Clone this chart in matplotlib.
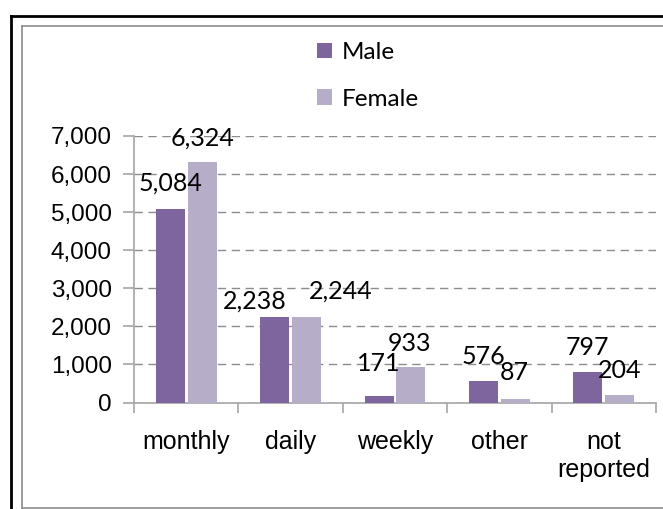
import numpy as np
import matplotlib
matplotlib.use('Agg')
import matplotlib.pyplot as plt
from matplotlib.lines import Line2D
from matplotlib.ticker import FuncFormatter, FixedLocator

categories = ['monthly', 'daily', 'weekly', 'other', 'not\nreported']
male = [5084, 2238, 171, 576, 797]
female = [6324, 2244, 933, 87, 204]

# сдвиги подписей (в пикселях), как в исходной картинке
male_off = [(0, 18), (-20, 9), (0, 25), (0, 17), (0, 17)]
female_off = [(0, 16), (34, 18), (-1, 16), (-1, 19), (0, 17)]

c_male = '#7F659E'
c_female = '#B6ADC9'
W, H = 663, 509

fig = plt.figure(figsize=(W / 100, H / 100), dpi=100)
ax = fig.add_axes([134 / W, 1 - 402.5 / H, (656 - 134) / W, (402.5 - 136) / H])

x = np.arange(len(categories))
bw = 0.278
d = 0.153
b1 = ax.bar(x - d, male, bw, color=c_male, label='Male', zorder=3)
b2 = ax.bar(x + d, female, bw, color=c_female, label='Female', zorder=3)

px = 0.72  # 1 px в пунктах
for bars, vals, offs in [(b1, male, male_off), (b2, female, female_off)]:
    for r, v, (dx, dy) in zip(bars, vals, offs):
        ax.annotate(f'{v:,}', (r.get_x() + r.get_width() / 2, v),
                    xytext=(dx * px, dy * px), textcoords='offset points',
                    ha='center', va='baseline', fontsize=18,
                    family=['Lato', 'DejaVu Sans'], zorder=4)

ax.set_xlim(-0.5, len(categories) - 0.5)
ax.set_ylim(0, 7000)
ax.set_yticks(np.arange(0, 7001, 1000))
ax.yaxis.set_major_formatter(FuncFormatter(lambda v, p: f'{int(v):,}'))
ax.set_xticks(x)
ax.set_xticklabels(categories, fontsize=18, family='Liberation Sans', linespacing=1.2)
ax.xaxis.set_minor_locator(FixedLocator(np.arange(-0.5, len(categories), 1)))
ax.tick_params(axis='x', which='major', length=0, pad=20)
ax.tick_params(axis='x', which='minor', length=7, color='#A6A6A6', width=1.2)
ax.tick_params(axis='y', length=8, color='#A6A6A6', width=1.2, pad=8, labelsize=17.5)
for t in ax.get_yticklabels():
    t.set_family('Liberation Sans')

ax.grid(axis='y', linestyle=(0, (6, 4)), color='#8C8C8C', linewidth=1.0, zorder=0)
for s in ['top', 'right']:
    ax.spines[s].set_visible(False)
for s in ['left', 'bottom']:
    ax.spines[s].set_color('#A6A6A6')
    ax.spines[s].set_linewidth(1.2)

leg = fig.legend(handles=[b1, b2], loc='center', bbox_to_anchor=(368 / W, 1 - 76 / H),
                 ncol=1, frameon=False, prop={'family': 'Lato', 'size': 17.5},
                 handlelength=0.6, handleheight=0.6, handletextpad=0.4,
                 labelspacing=1.05)

# рамки
def fx(p):
    return p / W

def fy(p):
    return 1 - p / H

fig.add_artist(Line2D([fx(10.5), fx(W + 5)], [fy(16), fy(16)], color='black', linewidth=2.0))
fig.add_artist(Line2D([fx(10.5), fx(10.5)], [fy(16), fy(H + 5)], color='black', linewidth=2.0))
fig.add_artist(Line2D([fx(22), fx(W + 5)], [fy(26), fy(26)], color='#8C8C8C', linewidth=1.2))
fig.add_artist(Line2D([fx(22), fx(22)], [fy(26), fy(507.5)], color='#8C8C8C', linewidth=1.2))
fig.add_artist(Line2D([fx(22), fx(W + 5)], [fy(507.5), fy(507.5)], color='#8C8C8C', linewidth=1.2))

plt.savefig('out.png', dpi=100)
